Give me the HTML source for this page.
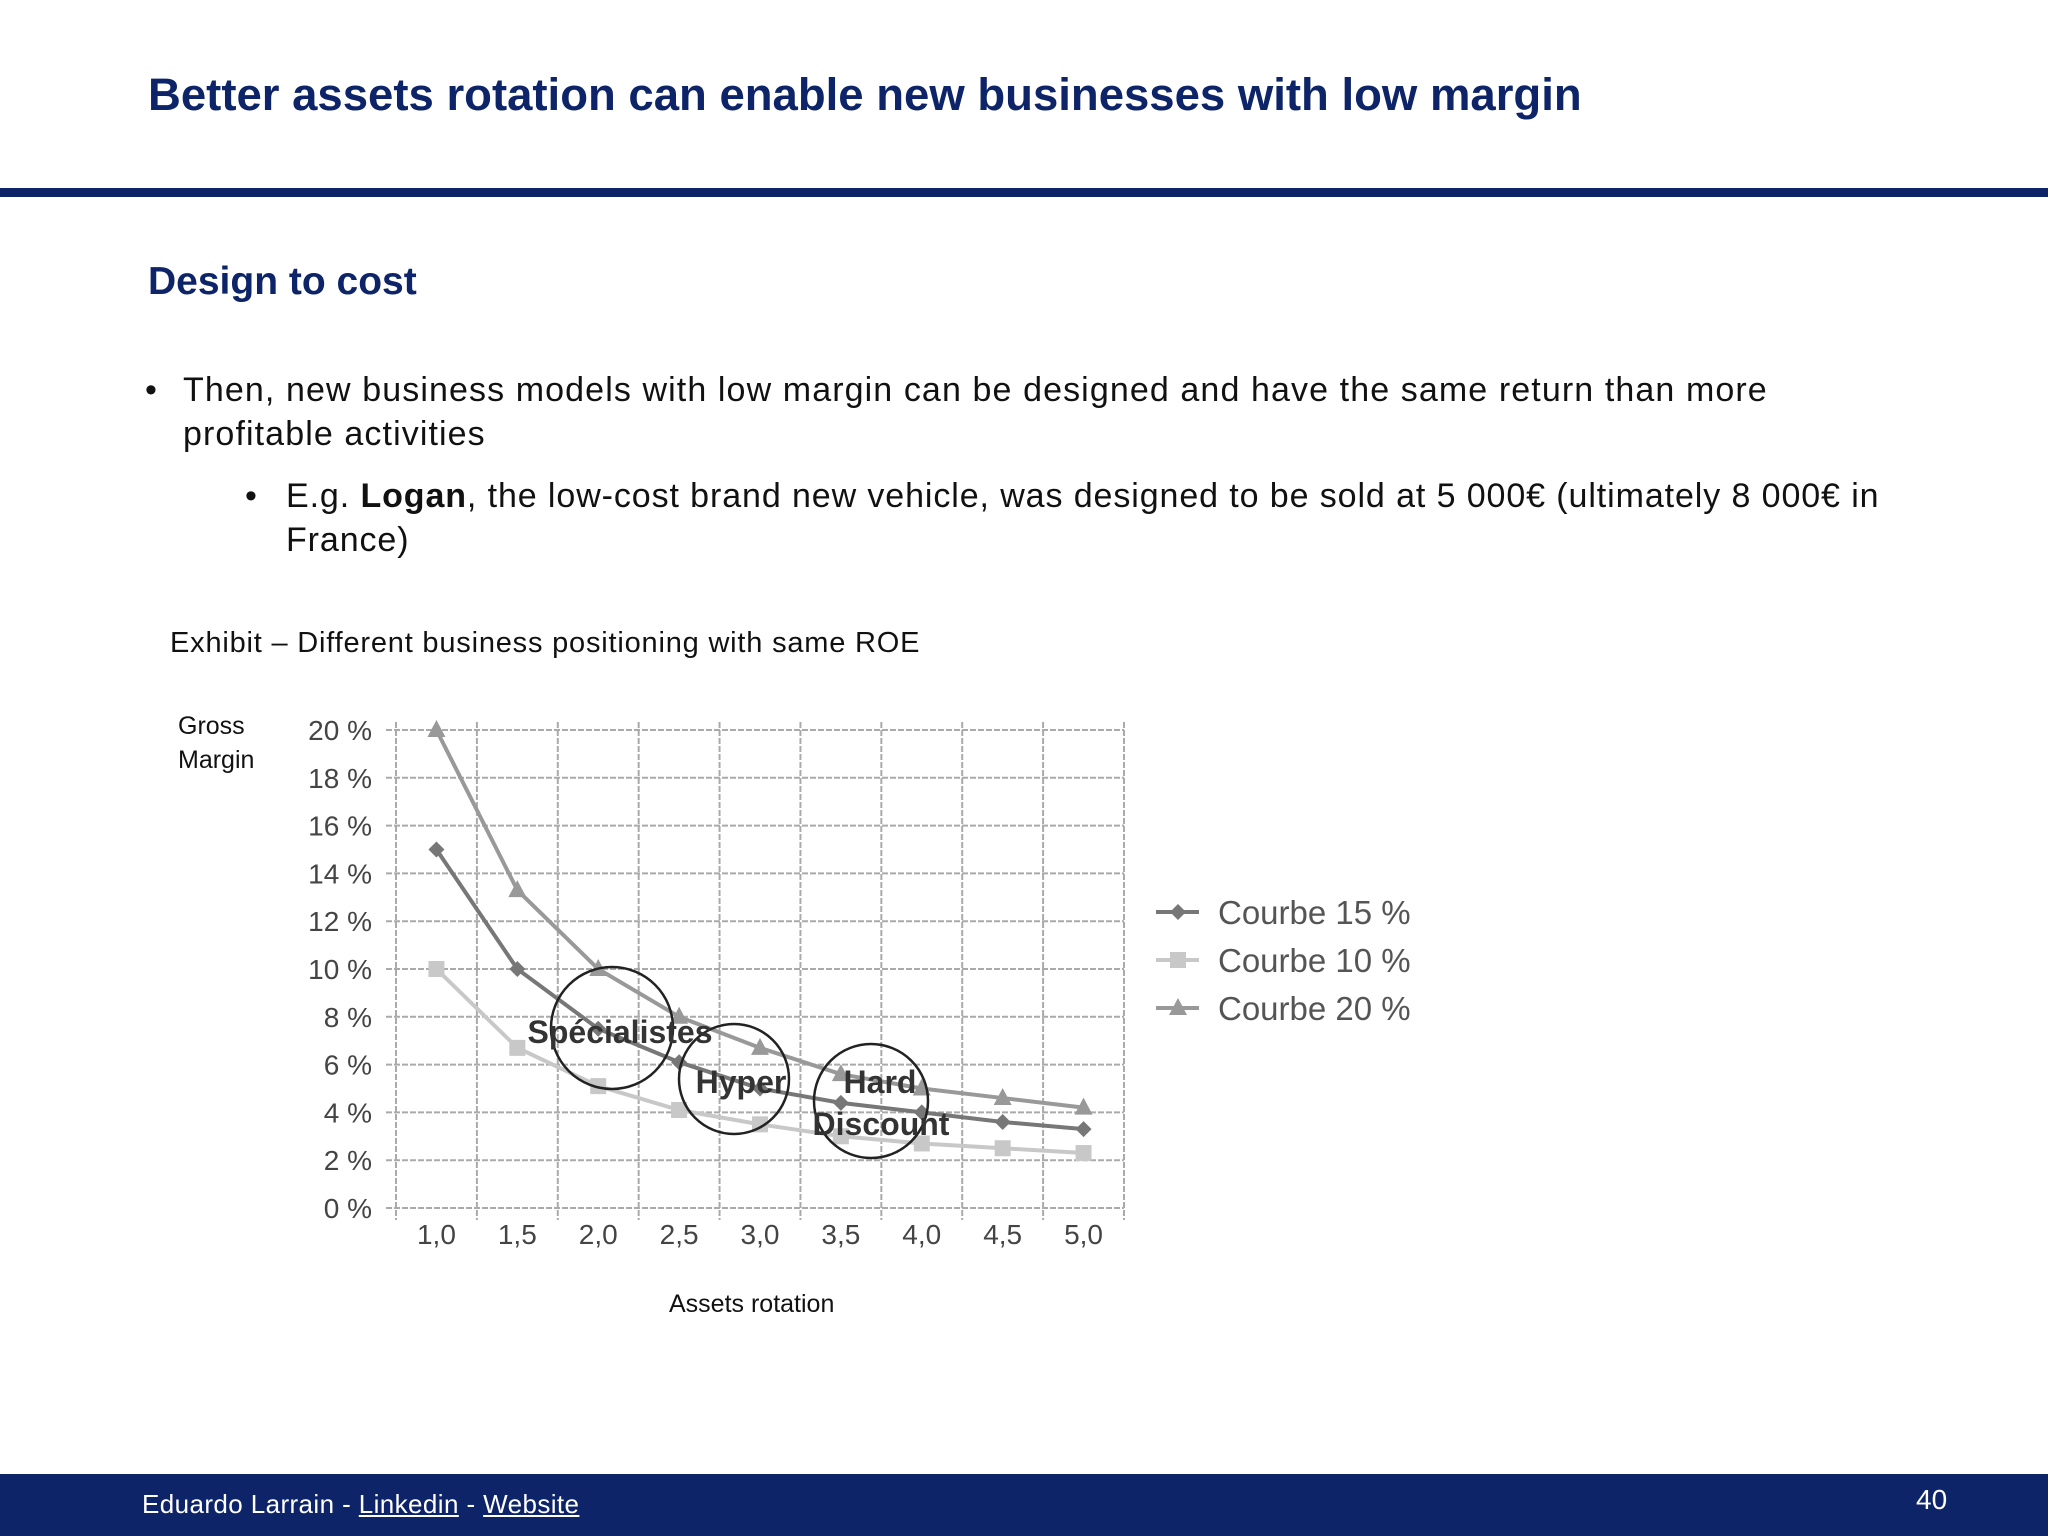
<!DOCTYPE html>
<html><head><meta charset="utf-8"><style>
body{margin:0;width:2048px;height:1536px;overflow:hidden;background:#fff;font-family:"Liberation Sans",sans-serif;position:relative}
.a{position:absolute;white-space:nowrap}
</style></head><body>
<div class="a" style="left:148px;top:69px;font-size:45.5px;font-weight:bold;color:#0d2468">Better assets rotation can enable new businesses with low margin</div>
<div class="a" style="left:0;top:188px;width:2048px;height:9px;background:#0d2468"></div>
<div class="a" style="left:148px;top:260px;font-size:39px;font-weight:bold;color:#0d2468">Design to cost</div>
<div class="a" style="left:145px;top:368px;font-size:34px;line-height:44px;color:#111;letter-spacing:1.1px">•<span style="position:absolute;left:38px">Then, new business models with low margin can be designed and have the same return than more<br>profitable activities</span></div>
<div class="a" style="left:245px;top:474px;font-size:34px;line-height:44px;color:#111;letter-spacing:0.9px">•<span style="position:absolute;left:41px">E.g. <b>Logan</b>, the low-cost brand new vehicle, was designed to be sold at 5 000€ (ultimately 8 000€ in<br>France)</span></div>
<div class="a" style="left:170px;top:627px;font-size:29px;color:#111;letter-spacing:0.8px">Exhibit – Different business positioning with same ROE</div>
<div class="a" style="left:178px;top:709px;font-size:25px;line-height:34px;color:#111">Gross<br>Margin</div>
<div class="a" style="left:669px;top:1290px;font-size:25px;color:#111">Assets rotation</div>
<svg class="a" style="left:0;top:0" width="2048" height="1536" id="chart"></svg>
<div class="a" style="left:0;top:1474px;width:2048px;height:62px;background:#0d2468"></div>
<div class="a" style="left:142px;top:1489px;font-size:26px;color:#fff;letter-spacing:0.4px">Eduardo Larrain - <u>Linkedin</u> - <u>Website</u></div>
<div class="a" style="left:1916px;top:1484px;font-size:28px;color:#fff">40</div>
<script>
const categories=["1,0","1,5","2,0","2,5","3,0","3,5","4,0","4,5","5,0"];
const yTicks=[0,2,4,6,8,10,12,14,16,18,20];
const s15=[15,10,7.5,6.1,5,4.4,4,3.6,3.3];
const s10=[10,6.7,5.1,4.1,3.5,3.0,2.7,2.5,2.3];
const s20=[20,13.3,10,8,6.7,5.6,5,4.6,4.2];
const NS="http://www.w3.org/2000/svg";
const svg=document.getElementById('chart');
const L=396,R=1124,T=730,B=1208;
const bw=(R-L)/categories.length;
const xs=i=>L+bw*(i+0.5);
const ys=v=>B-(v/20)*(B-T);
function mk(t,a){const e=document.createElementNS(NS,t);for(const k in a)e.setAttribute(k,a[k]);svg.appendChild(e);return e;}
yTicks.forEach(v=>{
 let g=mk('line',{x1:L-10,x2:R,y1:ys(v),y2:ys(v),stroke:'#aaa','stroke-width':2,'stroke-dasharray':'6 2'});
 
 
 let t=mk('text',{x:372,y:ys(v)+10,'text-anchor':'end','font-size':28,fill:'#444','font-family':'Liberation Sans, sans-serif'});
 t.textContent=v+' %';
 
 
});
for(let i=0;i<=categories.length;i++){
 let g=mk('line',{x1:L+bw*i,x2:L+bw*i,y1:T-8,y2:B+12,stroke:'#aaa','stroke-width':2,'stroke-dasharray':'6 2'});
 
 
}
categories.forEach((c,i)=>{
 let t=mk('text',{x:xs(i),y:1244,'text-anchor':'middle','font-size':28,fill:'#444','font-family':'Liberation Sans, sans-serif'});
 t.textContent=c;
 
 
});
function marker(x,y,shape,col){
 let e;
 if(shape==='d')e=mk('polygon',{points:`${x},${y-8} ${x+8},${y} ${x},${y+8} ${x-8},${y}`,fill:col});
 else if(shape==='s')e=mk('rect',{x:x-8,y:y-8,width:16,height:16,fill:col});
 else e=mk('polygon',{points:`${x},${y-10} ${x+9},${y+7} ${x-9},${y+7}`,fill:col});
 return e;
}
function series(data,col,shape,name){
 let p=mk('polyline',{points:data.map((v,i)=>xs(i)+','+ys(v)).join(' '),fill:'none',stroke:col,'stroke-width':4});
 
 
 data.forEach((v,i)=>{let m=marker(xs(i),ys(v),shape,col);
  
  });
}
series(s10,'#c8c8c8','s','courbe-10');
series(s20,'#999','t','courbe-20');
series(s15,'#777','d','courbe-15');
[[612,1028,61],[734,1079,55],[871,1101,57]].forEach(c=>{
 let e=mk('circle',{cx:c[0],cy:c[1],r:c[2],fill:'none',stroke:'#222','stroke-width':2.5});
 
 
});
[["Spécialistes",620,1043],["Hyper",741,1093],["Hard",880,1093],["Discount",881,1135]].forEach(l=>{
 let t=mk('text',{x:l[1],y:l[2],'text-anchor':'middle','font-size':32,'font-weight':'bold',fill:'#333','font-family':'Liberation Sans, sans-serif'});
 t.textContent=l[0];
 
 
});
[["Courbe 15 %",'#777','d',912],["Courbe 10 %",'#c8c8c8','s',960],["Courbe 20 %",'#999','t',1008]].forEach(l=>{
 let ln=mk('line',{x1:1156,x2:1199,y1:l[3],y2:l[3],stroke:l[1],'stroke-width':4});
 
 
 let m=marker(1178,l[3],l[2],l[1]);
 
 
 let t=mk('text',{x:1218,y:l[3]+12,'font-size':33,fill:'#555','font-family':'Liberation Sans, sans-serif'});
 t.textContent=l[0];
 
 
});
</script>
</body></html>
